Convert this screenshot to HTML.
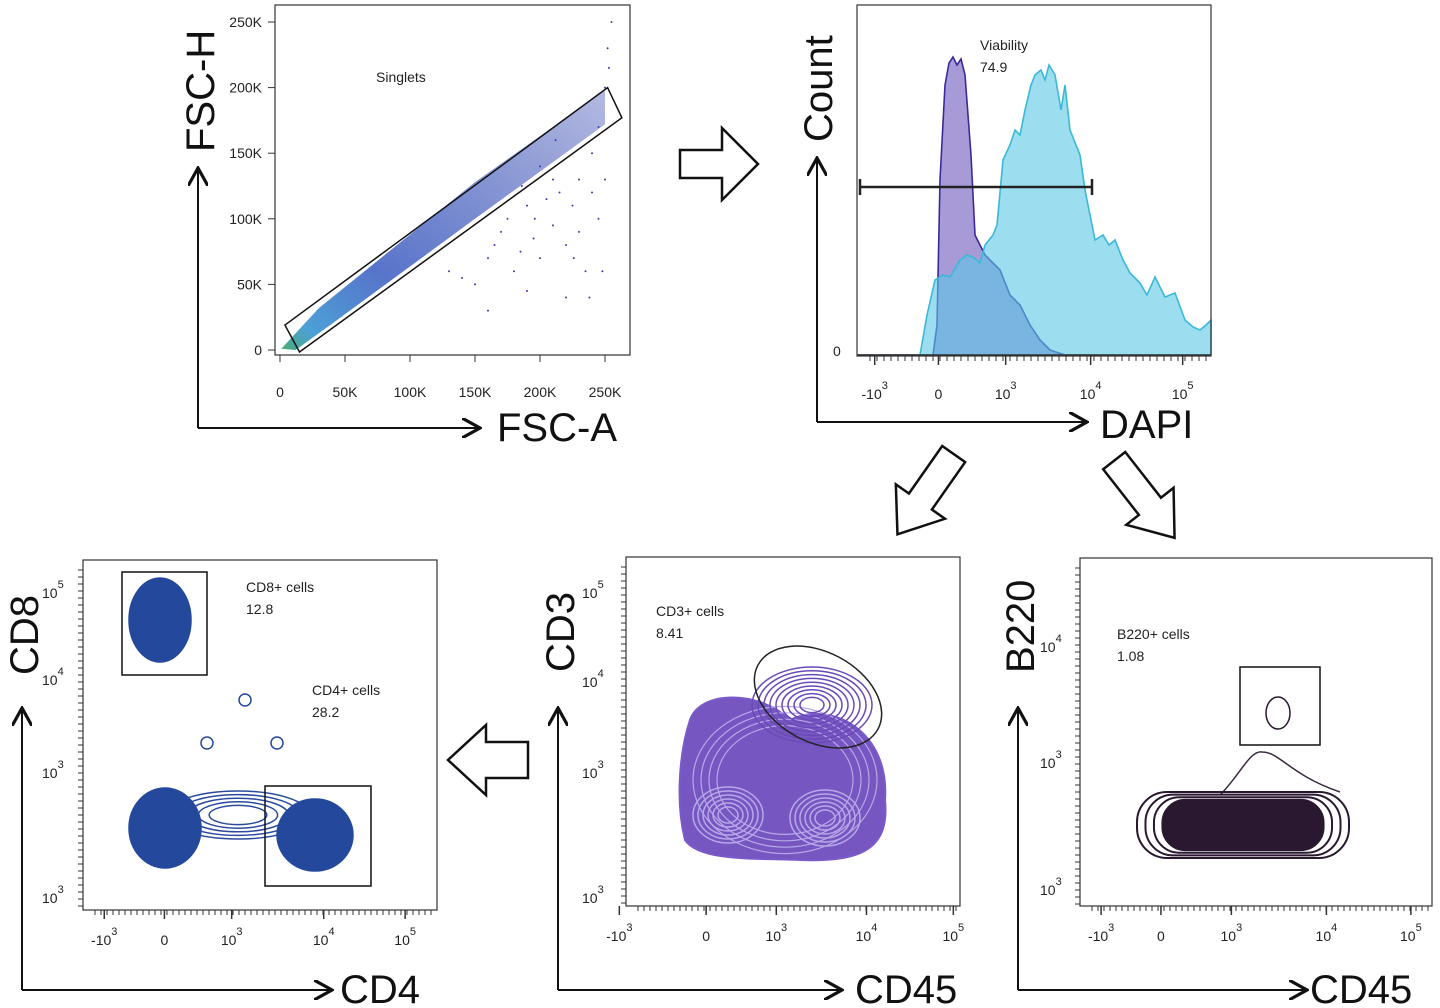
<!DOCTYPE html>
<html><head><meta charset="utf-8"><style>
body{margin:0;background:#fff;}
svg{display:block;font-family:"Liberation Sans",sans-serif;}
.tk{font-size:14px;fill:#222;}
.ttl{font-size:40px;fill:#111;}
.ann{font-size:14px;fill:#222;}
</style></head><body>
<svg id="fig" width="1440" height="1008" viewBox="0 0 1440 1008">
<defs>
<marker id="ah" markerWidth="10" markerHeight="10" refX="8" refY="5" orient="auto"><path d="M0,0 L9,5 L0,10" fill="none" stroke="#111" stroke-width="1.6"/></marker>
<linearGradient id="band" x1="0" y1="1" x2="1" y2="0"><stop offset="0" stop-color="#2a9d5c"/><stop offset="0.08" stop-color="#2c8fd0"/><stop offset="0.3" stop-color="#3a5bc0"/><stop offset="1" stop-color="#3a4ab0" stop-opacity="0.45"/></linearGradient>
</defs>

<g>
<rect x="275" y="5" width="355" height="350" fill="none" stroke="#333" stroke-width="1.2"/>
<g id="p1"></g>
<text class="ann" x="376" y="82">Singlets</text>
<line x1="198" y1="428" x2="198" y2="170" stroke="#111" stroke-width="2" marker-end="url(#ah)"/>
<line x1="198" y1="428" x2="478" y2="428" stroke="#111" stroke-width="2" marker-end="url(#ah)"/>
<text class="ttl" transform="translate(214,152) rotate(-90)">FSC-H</text>
<text class="ttl" x="497" y="441">FSC-A</text>
</g>

<g>
<g id="p2"></g>
<rect x="857" y="5" width="354" height="351" fill="none" stroke="#333" stroke-width="1.2"/>
<text class="ann" x="980" y="50">Viability</text>
<text class="ann" x="980" y="72">74.9</text>
<text class="tk" x="833" y="356">0</text>
<line x1="817" y1="422" x2="817" y2="160" stroke="#111" stroke-width="2" marker-end="url(#ah)"/>
<line x1="817" y1="422" x2="1085" y2="422" stroke="#111" stroke-width="2" marker-end="url(#ah)"/>
<text class="ttl" transform="translate(832,142) rotate(-90)">Count</text>
<text class="ttl" x="1100" y="438">DAPI</text>
</g>

<g id="p3"></g>
<g id="p4"></g>
<g id="p5"></g>

<path d="M680,150 L722,150 L722,128 L758,164 L722,200 L722,178 L680,178 Z" fill="#fff" stroke="#111" stroke-width="2.5"/>
<path d="M528,742 L486,742 L486,725 L448,760 L486,795 L486,778 L528,778 Z" fill="#fff" stroke="#111" stroke-width="2.5"/>
<g transform="translate(925,495) rotate(125)"><path d="M-50,-14 L8,-14 L8,-30 L48,0 L8,30 L8,14 L-50,14 Z" fill="#fff" stroke="#111" stroke-width="2.5"/></g>
<g transform="translate(1145,500) rotate(52)"><path d="M-50,-14 L8,-14 L8,-30 L48,0 L8,30 L8,14 L-50,14 Z" fill="#fff" stroke="#111" stroke-width="2.5"/></g>
</svg>
<script>
const fscTicks=[0,50000,100000,150000,200000,250000];
const fscTickLabels=["0","50K","100K","150K","200K","250K"];
const singletGate=[[3800,19000],[252000,200000],[263000,177000],[15000,-1500]];
const densityBand=[[1000,1000],[30000,32000],[150000,128000],[250000,198000],[250000,172000],[150000,100000],[40000,20000],[12000,0]];
const outliers=[[170000,90000],[190000,110000],[210000,95000],[230000,130000],[200000,70000],[240000,150000],[180000,60000],[220000,80000],[160000,70000],[245000,100000],[150000,50000],[235000,60000],[200000,140000],[215000,120000],[250000,200000],[252000,230000],[248000,60000],[130000,60000],[175000,100000],[195000,85000],[225000,110000],[240000,120000],[185000,75000],[205000,115000],[165000,80000],[230000,90000],[210000,130000],[245000,170000],[140000,55000],[220000,40000],[160000,30000],[250000,130000],[238000,40000],[190000,45000],[255000,250000],[253000,215000],[212000,160000],[186000,125000],[196000,100000],[226000,70000]];

const histBins=[0,63,76,80,83,88,92,96,100,104,108,114,118,123,128,133,138,143,153,163,173,183,193,208,233];
const deadCounts=[0,0,0,30,175,270,292,298,290,296,280,200,120,110,100,95,90,85,60,50,30,15,5,0,0];
const liveBins=[63,70,78,86,93,103,110,116,123,128,136,140,146,153,158,163,168,174,178,184,188,192,198,204,208,213,223,228,238,246,252,258,266,273,283,290,298,308,318,328,336,343,349,354];
const liveCounts=[0,40,75,80,78,95,100,98,92,110,120,130,195,210,225,220,245,270,280,285,275,290,280,245,270,225,200,165,115,120,110,115,95,82,72,60,78,58,62,35,28,25,30,35];
const dapiTickPos=[0.05,0.23,0.42,0.66,0.92];
const dapiTickLabels=["-10","0","10","10","10"];
const dapiTickExp=["3","","3","4","5"];
const gateRange=[3,235];
const gateLevel=168;

const NS="http://www.w3.org/2000/svg";
function el(tag,attrs,parent){const e=document.createElementNS(NS,tag);for(const k in attrs)e.setAttribute(k,attrs[k]);parent.appendChild(e);return e;}
function powLabel(g,x,y,base,exp,anchor,name){
 const t=el('text',{class:'tk',x,y,'text-anchor':anchor},g);
 
 
 const a=el('tspan',{},t);a.textContent=base;
 if(exp){const b=el('tspan',{dy:-10,'font-size':'11'},t);b.textContent=exp;}
 return t;
}

(function(){
 const g=document.getElementById('p1');
 const X=v=>280+v/250000*325, Y=v=>350-v/250000*328;
 const band=el('polygon',{points:densityBand.map(p=>X(p[0])+','+Y(p[1])).join(' '),fill:'url(#band)',opacity:'0.85'},g);
 
 
 outliers.forEach(p=>{const c=el('circle',{cx:X(p[0]),cy:Y(p[1]),r:1,fill:'#3a3ab0'},g);
  
  });
 const gate=el('polygon',{points:singletGate.map(p=>X(p[0])+','+Y(p[1])).join(' '),fill:'none',stroke:'#111','stroke-width':1.5},g);
 
 
 fscTicks.forEach((v,i)=>{
  const t=el('text',{class:'tk',x:X(v),y:397,'text-anchor':'middle'},g);t.textContent=fscTickLabels[i];
  
  
  const u=el('text',{class:'tk',x:262,y:Y(v)+5,'text-anchor':'end'},g);u.textContent=fscTickLabels[i];
  
  
  el('line',{x1:X(v),y1:355,x2:X(v),y2:362,stroke:'#333'},g);
  el('line',{x1:268,y1:Y(v),x2:275,y2:Y(v),stroke:'#333'},g);
 });
})();

(function(){
 const g=document.getElementById('p2');
 const X=b=>857+b, Y=c=>355-c;
 const mk=(bins,counts,fill,stroke,name)=>{
  let d='M'+X(bins[0])+','+Y(0);
  bins.forEach((b,i)=>d+=' L'+X(b)+','+Y(counts[i]));
  d+=' L'+X(bins[bins.length-1])+','+Y(0)+' Z';
  const p=el('path',{d,fill,stroke,'stroke-width':1.6},g);
  
  
 };
 mk(histBins,deadCounts,'#a89ad6','#3a2a9a','dead-cells-histogram');
 mk(liveBins,liveCounts,'rgba(90,200,230,0.6)','#3ab8d8','live-cells-histogram');
 el('line',{x1:857,y1:355,x2:1211,y2:355,stroke:'#333','stroke-width':1.5},g);
 const gl=el('line',{x1:X(gateRange[0]),y1:Y(gateLevel),x2:X(gateRange[1]),y2:Y(gateLevel),stroke:'#222','stroke-width':2.5},g);
 
 
 [gateRange[0],gateRange[1]].forEach(b=>el('line',{x1:X(b),y1:Y(gateLevel)-8,x2:X(b),y2:Y(gateLevel)+8,stroke:'#222','stroke-width':2.5},g));
 dapiTickPos.forEach((f,i)=>{
  const x=857+f*354;
  el('line',{x1:x,y1:356,x2:x,y2:365,stroke:'#333','stroke-width':1.5},g);
  powLabel(g,x,399,dapiTickLabels[i],dapiTickExp[i],'middle','dapi-tick-label');
 });
 for(let x=870;x<1211;x+=7)el('line',{x1:x,y1:356,x2:x,y2:361,stroke:'#333'},g);
})();

const logTickLabels=["-10","0","10","10","10"];
const logTickExp=["3","","3","4","5"];
function bottomPanel(g,x0,y0,w,h,axX,axEnd,ytitle,xtitle,ylabels,xtitleX,labX,tickPos){
 el('rect',{x:x0,y:y0,width:w,height:h,fill:'none',stroke:'#333','stroke-width':1.2},g);
 tickPos.forEach((f,i)=>{
  const x=x0+f*w;
  el('line',{x1:x,y1:y0+h,x2:x,y2:y0+h+9,stroke:'#333','stroke-width':1.5},g);
  powLabel(g,x,y0+h+35,logTickLabels[i],logTickExp[i],'middle','x-tick-label');
 });
 for(let x=x0+12;x<x0+w;x+=6)el('line',{x1:x,y1:y0+h,x2:x,y2:y0+h+5,stroke:'#333'},g);
 for(let y=y0+10;y<y0+h;y+=7)el('line',{x1:x0-5,y1:y,x2:x0,y2:y,stroke:'#333'},g);
 ylabels.forEach(l=>powLabel(g,labX,l[1],'10',l[0],'start','y-tick-label'));
 const a1=el('line',{x1:axX,y1:990,x2:axX,y2:710,stroke:'#111','stroke-width':2,'marker-end':'url(#ah)'},g);
 
 
 const a2=el('line',{x1:axX,y1:990,x2:axEnd,y2:990,stroke:'#111','stroke-width':2,'marker-end':'url(#ah)'},g);
 
 
 const yt=el('text',{class:'ttl',transform:`translate(${axX+16},${y0+115}) rotate(-90)`},g);yt.textContent=ytitle;
 
 
 const xt=el('text',{class:'ttl',x:xtitleX,y:1003},g);xt.textContent=xtitle;
 
 
}
function contours(g,cx,cy,rx,ry,levels,color,fillCore,name){
 levels.forEach((s,i)=>{const e=el('ellipse',{cx,cy,rx:rx*s,ry:ry*s,fill:(i===0&&fillCore)?color:'none',stroke:color,'stroke-width':1.5},g);
  
  });
}
function label(g,x,y,a,b,name){const t=el('text',{class:'ann',x,y},g);t.textContent=a;
 
 
 const v=el('text',{class:'ann',x,y:y+22},g);v.textContent=b;
 
 }

const cd4Clusters=[[165,828,36,40],[315,835,38,36],[160,620,31,42]];
const bridgeLevels=[1,0.85,0.7,0.55,0.4];
const smallBlobs=[[245,700],[207,743],[277,743]];
(function(){
 const g=document.getElementById('p3');
 bottomPanel(g,83,560,354,350,22,330,'CD8','CD4',[["5",598],["4",685],["3",778],["3",903]],340,42,[0.06,0.23,0.42,0.68,0.91]);
 contours(g,238,815,72,24,bridgeLevels,'#2a4a9e',false,'cd4-cd8-bridge-contour');
 cd4Clusters.forEach(c=>contours(g,c[0],c[1],c[2],c[3],[1],'#24489c',true,'cd-cluster'));
 smallBlobs.forEach(b=>contours(g,b[0],b[1],6,6,[1],'#24489c',false,'minor-cluster'));
 const r1=el('rect',{x:122,y:572,width:85,height:103,fill:'none',stroke:'#111','stroke-width':1.5},g);
 
 
 const r2=el('rect',{x:265,y:786,width:106,height:100,fill:'none',stroke:'#111','stroke-width':1.5},g);
 
 
 label(g,246,592,'CD8+ cells','12.8','cd8-cells');
 label(g,312,695,'CD4+ cells','28.2','cd4-cells');
})();

const cd3Levels=[1,0.9,0.8,0.7,0.6,0.5,0.4,0.3,0.2];
(function(){
 const g=document.getElementById('p4');
 bottomPanel(g,626,557,334,349,558,840,'CD3','CD45',[["5",598],["4",687],["3",778],["3",903]],855,582,[-0.02,0.24,0.45,0.72,0.98]);
 const blob=el('path',{d:'M690,720 C700,690 760,690 790,720 C830,700 890,730 885,800 C890,850 860,862 800,860 C760,858 700,862 685,840 C675,800 680,750 690,720 Z',fill:'#7656c0',stroke:'#7a5ac8','stroke-width':2},g);
 
 
 [0.92,0.84,0.76,0.68].forEach(s=>{const p=el('ellipse',{cx:785,cy:780,rx:100*s,ry:80*s,fill:'none',stroke:'#b8a8e8','stroke-width':1.2},g);
  
  });
 contours(g,728,815,50,40,cd3Levels.slice(3),'#b8a8e8',false,'cd45-left-contour');
 contours(g,825,818,50,40,cd3Levels.slice(3),'#b8a8e8',false,'cd45-right-contour');
 contours(g,812,705,60,38,cd3Levels,'#6a4ab8',false,'cd3-contour');
 const gate=el('ellipse',{cx:818,cy:697,rx:68,ry:45,transform:'rotate(28 818 697)',fill:'none',stroke:'#222','stroke-width':1.5},g);
 
 
 label(g,656,616,'CD3+ cells','8.41','cd3-cells');
})();

const b220Levels=[1,0.92,0.84,0.76];
(function(){
 const g=document.getElementById('p5');
 bottomPanel(g,1080,558,352,348,1018,1305,'B220','CD45',[["4",652],["3",768],["3",895]],1310,1040,[0.06,0.23,0.43,0.70,0.94]);
 const bump=el('path',{d:'M1220,795 C1240,775 1250,750 1262,752 C1280,752 1290,775 1340,792',fill:'none',stroke:'#3a2a40','stroke-width':1.5},g);
 
 
 b220Levels.forEach((s,i)=>{const r=el('rect',{x:1243-106*s,y:825-33*s,width:212*s,height:66*s,rx:30*s,fill:i===3?'#2a1830':'none',stroke:'#2a1830','stroke-width':2},g);
  
  });
 const r=el('rect',{x:1240,y:667,width:80,height:78,fill:'none',stroke:'#111','stroke-width':1.5},g);
 
 
 contours(g,1278,713,12,16,[1],'#2a1830',false,'b220-cluster');
 label(g,1117,639,'B220+ cells','1.08','b220-cells');
})();
</script>
</body></html>
